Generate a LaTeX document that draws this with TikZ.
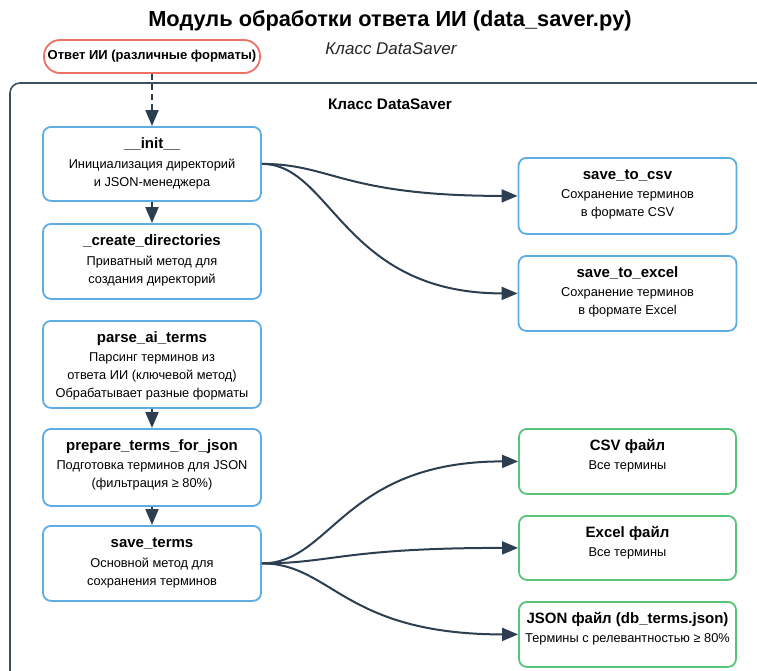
\documentclass[tikz,border=0pt]{standalone}
\usepackage{fontspec}
\setmainfont{Liberation Sans}
\usetikzlibrary{arrows.meta,calc}

\definecolor{edgec}{HTML}{2C3E50}
\definecolor{bluec}{HTML}{5DADE2}
\definecolor{greenc}{HTML}{58C47A}
\definecolor{redc}{HTML}{EC7063}
\definecolor{framec}{HTML}{3D4F60}

\tikzset{
  method/.style={draw=bluec, line width=1.8pt, rounded corners=8pt, fill=white,
    minimum width=218pt, inner sep=0pt},
  outfile/.style={draw=greenc, line width=1.8pt, rounded corners=8pt, fill=white,
    minimum width=217pt, inner sep=0pt},
  cardtitle/.style={anchor=base, inner sep=0pt, font=\fontsize{15}{17}\selectfont\bfseries},
  cardbody/.style={anchor=north, inner sep=0pt, align=center, font=\fontsize{12.8}{18}\selectfont},
  link/.style={draw=edgec, line width=2pt, -{Triangle[length=16pt,width=13pt]}},
}

% card: name, style, centre x, top y, height, title, body
\newcommand{\card}[7]{%
  \node[#2, minimum height=#5pt, anchor=north] (#1) at (#3,#4) {};
  \node[cardtitle] (#1-t) at ([yshift=-22pt]#1.north) {#6};
  \node[cardbody] (#1-b) at ([yshift=-32.5pt]#1.north) {#7};
}

\begin{document}
\begin{tikzpicture}[x=1pt,y=-1pt]
  \useasboundingbox (0,0) rectangle (757,670);
  \clip (0,0) rectangle (757,670);

  % headings
  \node[font=\fontsize{21.8}{26}\selectfont\bfseries] (title) at (390,21)
    {Модуль обработки ответа ИИ (data\_saver.py)};
  \node[font=\fontsize{17}{20}\selectfont\itshape, text=black!85] (subtitle) at (391,49)
    {Класс DataSaver};

  % class frame
  \draw[framec, line width=1.6pt, rounded corners=10pt] (10,83) rectangle (800,720);
  \node[font=\fontsize{15.3}{18}\selectfont\bfseries] (frame-label) at (390,104)
    {Класс DataSaver};

  % input
  \node[draw=redc, line width=1.8pt, fill=white, rounded corners=16pt,
        minimum width=216pt, minimum height=33pt, inner sep=0pt,
        font=\fontsize{13}{15}\selectfont\bfseries] (input) at (152,56.5)
    {Ответ ИИ (различные форматы)};

  % methods
  \card{init}{method}{152}{126}{74}{\_\_init\_\_}
    {Инициализация директорий\\и JSON-менеджера}
  \card{create}{method}{152}{223}{75}{\_create\_directories}
    {Приватный метод для\\создания директорий}
  \card{parse}{method}{152}{320}{87}{parse\_ai\_terms}
    {Парсинг терминов из\\ответа ИИ (ключевой метод)\\Обрабатывает разные форматы}
  \card{prepare}{method}{152}{428}{77}{prepare\_terms\_for\_json}
    {Подготовка терминов для JSON\\(фильтрация ≥ 80\%)}
  \card{save}{method}{152}{525}{75}{save\_terms}
    {Основной метод для\\сохранения терминов}

  \card{tocsv}{method}{627.5}{157}{76}{save\_to\_csv}
    {Сохранение терминов\\в формате CSV}
  \card{toexcel}{method}{627.5}{255}{75}{save\_to\_excel}
    {Сохранение терминов\\в формате Excel}

  % output files
  \card{csvfile}{outfile}{627.5}{428}{65}{CSV файл}{Все термины}
  \card{excelfile}{outfile}{627.5}{515}{64}{Excel файл}{Все термины}
  \card{jsonfile}{outfile}{627.5}{601}{65}{JSON файл (db\_terms.json)}
    {Термины с релевантностью ≥ 80\%}

  % connectors
  \draw[link, dash pattern=on 6pt off 4pt] (input.south) -- (init.north);
  \draw[link] (init.south) -- (create.north);
  \draw[link] (parse.south) -- (prepare.north);
  \draw[link] (prepare.south) -- (save.north);

  \draw[link] (init.east) .. controls ($(init.east)+(70,0)$) and ($(tocsv.west)+(-175,0)$) .. (tocsv.west);
  \draw[link] (init.east) .. controls ($(init.east)+(70,0)$) and ($(toexcel.west)+(-175,0)$) .. (toexcel.west);

  \draw[link] (save.east) .. controls ($(save.east)+(70,0)$) and ($(csvfile.west)+(-175,0)$) .. (csvfile.west);
  \draw[link] (save.east) .. controls ($(save.east)+(70,0)$) and ($(excelfile.west)+(-175,0)$) .. (excelfile.west);
  \draw[link] (save.east) .. controls ($(save.east)+(70,0)$) and ($(jsonfile.west)+(-175,0)$) .. (jsonfile.west);
\end{tikzpicture}
\end{document}
